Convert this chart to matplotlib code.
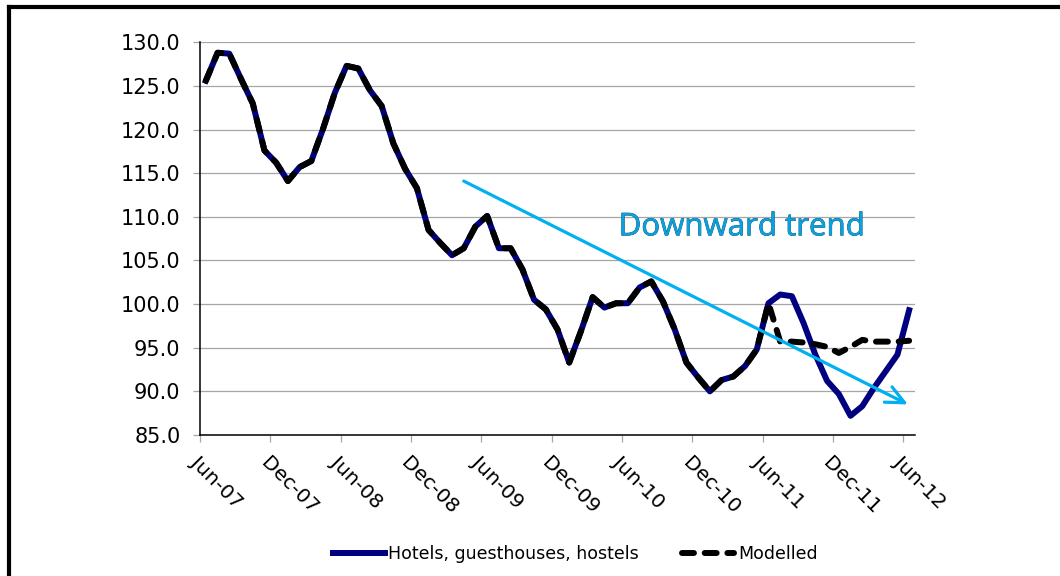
import numpy as np
import matplotlib
matplotlib.use("Agg")
import matplotlib.pyplot as plt
import matplotlib.patheffects as pe
from matplotlib.lines import Line2D

# Monthly index, Jun-07 .. Jun-12
hotels = [125.6, 128.8, 128.7, 125.8, 123.0, 117.6, 116.2, 114.1, 115.7, 116.4,
          120.1, 124.2, 127.3, 127.0, 124.5, 122.7, 118.4, 115.5, 113.3, 108.5,
          107.0, 105.6, 106.4, 108.9, 110.1, 106.4, 106.4, 104.0, 100.5, 99.4,
          97.1, 93.3, 96.9, 100.8, 99.6, 100.1, 100.1, 101.9, 102.6, 100.3,
          97.1, 93.3, 91.6, 90.0, 91.3, 91.7, 92.9, 94.8, 100.1, 101.1,
          100.9, 97.8, 94.2, 91.2, 89.7, 87.2, 88.3, 90.4, 92.3, 94.2,
          99.3]
modelled = hotels[:49] + [95.7, 95.7, 95.6, 95.4, 95.1, 94.4, 95.1, 95.9,
                          95.7, 95.7, 95.7, 95.8]
tick_labels = ["Jun-07", "Dec-07", "Jun-08", "Dec-08", "Jun-09", "Dec-09",
               "Jun-10", "Dec-10", "Jun-11", "Dec-11", "Jun-12"]
y_ticks = [85, 90, 95, 100, 105, 110, 115, 120, 125, 130]
trend_start = (22.5, 114.1)
trend_end = (60.4, 88.5)

x = np.arange(len(hotels)) + 0.5   # points sit mid-month

fig = plt.figure(figsize=(10.6, 5.76), dpi=100)
ax = fig.add_axes([200/1060, 1 - 435/576, 715/1060, (435 - 42.3)/576])

ax.plot(x, hotels, color="#000080", lw=4.3, solid_joinstyle="round",
        label="Hotels, guesthouses, hostels", zorder=3)
ax.plot(x, modelled, color="black", lw=4.3, dashes=(2.0, 1.8),
        dash_capstyle="round", dash_joinstyle="round",
        label="Modelled", zorder=4)

ax.set_xlim(0, 61)
ax.set_ylim(85, 130)
ax.set_yticks(y_ticks)
ax.set_yticklabels([f"{v:.1f}" for v in y_ticks], fontsize=15)
ax.set_xticks(np.arange(0, 61, 6))
ax.set_xticklabels(tick_labels, fontsize=14.5, rotation=-45, ha="left",
                   va="top", rotation_mode="anchor")
ax.tick_params(axis="y", length=5, color="#A6A6A6", width=0.9, pad=9)
ax.tick_params(axis="x", length=5, color="#A6A6A6", width=0.9, pad=8)
ax.yaxis.grid(True, color="#A6A6A6", lw=0.9)
ax.set_axisbelow(True)
for s in ["top", "right"]:
    ax.spines[s].set_visible(False)
for s in ["left", "bottom"]:
    ax.spines[s].set_linewidth(1.1)

# trend arrow + label
ax.annotate("", xy=trend_end, xytext=trend_start,
            arrowprops=dict(arrowstyle="->,head_length=0.6,head_width=0.28",
                            color="#00B0F0", lw=2.3, mutation_scale=22,
                            shrinkA=0, shrinkB=0), zorder=5)
t = ax.text(46.2, 108.8, "Downward trend", fontsize=22.5, family="Open Sans",
            color="#0AA2DE", ha="center", va="center", zorder=6)
t.set_path_effects([pe.withStroke(linewidth=0.5, foreground="#0B4F6E")])

ax.legend(loc="center", bbox_to_anchor=(575/1060, 1 - 554/576),
          bbox_transform=fig.transFigure, ncol=2, frameon=False,
          fontsize=12.5, handlelength=3.0, handletextpad=0.2,
          columnspacing=2.5)

# black frame (top and left edges visible)
fig.add_artist(Line2D([9/1060, 9/1060], [0, 1 - 7/576], color="black",
                      lw=3, transform=fig.transFigure))
fig.add_artist(Line2D([9/1060, 1], [1 - 7/576, 1 - 7/576], color="black",
                      lw=3, transform=fig.transFigure,
                      solid_capstyle="projecting"))

fig.savefig("out.png", dpi=100)
